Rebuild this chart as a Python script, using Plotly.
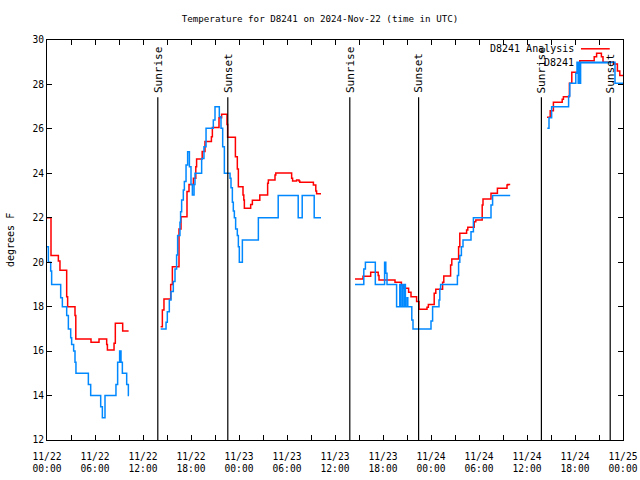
import plotly.graph_objects as go
from datetime import datetime, timedelta

# ---- data (hours after 2024-11-22 00:00 UTC, degrees F); None marks a gap ----
ana_hours = [0.0, 0.5, 1.42, 1.62, 2.46, 2.58, 3.5, 3.6, 5.5, 6.5, 7.46, 7.55, 8.38, 8.54, 9.46, 10.2, None,
             14.2, 14.42, 14.62, 15.46, 15.67, 16.5, 16.75, 17.5, 17.75, 18.3, 18.6, 18.7, 19.4, 19.75, 20.55,
             20.67, 21.5, 21.83, 22.5, 22.58, 23.55, 23.79, 23.92, 24.5, 24.6, 24.67, 25.46, 25.67, 26.6, 27.58,
             27.67, 28.5, 28.6, 30.58, 30.7, 31.2, 31.5, 31.6, 33.3, 33.6, 33.7, 34.25, None,
             38.5, 39.5, 40.46, 41.4, 41.5, 43.5, 44.3, 44.6, 45.2, 45.5, 46.2, 46.5, 47.5, 47.67, 48.4, 48.6,
             49.45, 49.6, 50.45, 50.6, 51.45, 51.6, 52.45, 52.6, 53.4, 53.6, 54.4, 54.5, 55.5, 56.3, 57.5, 57.6,
             57.9, None,
             62.5, 62.9, 63.3, 64.4, 64.55, 65.3, 65.6, 66.45, 66.6, 68.4, 68.7, 69.3, 69.5, 70.8, 71.3, 71.6, 72.0]
ana_temp = [22.0, 20.3, 20.05, 19.64, 18.45, 18.0, 17.6, 16.55, 16.4, 16.55, 16.3, 16.05, 16.35, 17.25, 16.9, 16.9, None,
            17.1, 17.85, 18.35, 19.0, 19.8, 21.5, 22.05, 23.18, 23.5, 23.78, 24.3, 24.65, 24.98, 25.43, 25.65,
            26.06, 26.5, 26.66, 26.2, 25.62, 24.75, 24.2, 23.4, 23.03, 22.8, 22.43, 22.6, 22.79, 23.03, 23.55,
            23.7, 23.93, 24.02, 23.78, 23.66, 23.7, 23.66, 23.6, 23.48, 23.2, 23.08, 23.08, None,
            19.25, 19.37, 19.55, 19.4, 19.2, 19.1, 18.98, 18.83, 18.65, 18.45, 18.23, 17.88, 17.97, 18.1, 18.6, 18.78,
            19.1, 19.38, 19.88, 20.15, 20.7, 21.3, 21.45, 21.57, 21.82, 21.9, 22.58, 22.84, 23.1, 23.33, 23.47, 23.5,
            23.5, None,
            26.52, 26.82, 27.2, 27.33, 27.45, 28.05, 28.55, 28.92, 29.07, 29.25, 29.4, 29.25, 29.0, 28.92, 28.6, 28.4, 28.4]

obs_hours = [0.0, 0.17, 0.46, 0.58, 1.71, 1.92, 2.46, 2.67, 2.96, 3.08, 3.33, 3.5, 3.62, 5.17, 5.46, 6.71, 6.92,
             7.25, 8.62, 8.83, 9.08, 9.25, 9.42, 9.96, 10.17, 10.25, None,
             14.21, 14.88, 15.04, 15.29, 15.5, 15.79, 16.0, 16.2, 16.33, 16.62, 16.7, 16.83, 17.04, 17.17, 17.38,
             17.58, 17.8, 18.0, 18.17, 18.38, 18.5, 19.33, 19.62, 19.88, 20.79, 21.0, 21.54, 21.75, 21.96, 22.17,
             22.88, 23.0, 23.17, 23.29, 23.42, 23.58, 23.79, 23.92, 24.04, 24.42, 26.42, 28.9, 31.4, 31.9, 33.4,
             34.25, None,
             38.5, 39.6, 39.8, 41.04, 42.2, 42.35, 42.5, 43.7, 44.1, 44.2, 44.4, 44.5, 44.7, 44.8, 45.0, 45.1,
             45.6, 45.75, 48.0, 48.2, 49.0, 49.1, 49.2, 51.3, 51.45, 51.6, 51.8, 52.0, 53.0, 53.3, 55.5, 55.7,
             57.9, None,
             62.54, 62.75, 63.08, 65.2, 65.35, 66.1, 66.25, 66.4, 66.5, 66.6, 66.7, 71.0, 72.0]
obs_temp = [20.7, 20.0, 19.6, 19.0, 18.4, 18.0, 17.6, 17.0, 16.6, 16.3, 16.0, 15.5, 15.0, 14.5, 14.0, 13.5, 13.0,
            14.0, 14.5, 15.5, 16.0, 15.5, 15.0, 14.5, 14.0, 14.0, None,
            17.0, 17.3, 17.77, 18.3, 18.68, 19.13, 19.7, 20.33, 21.2, 21.8, 22.27, 22.8, 23.25, 23.63, 24.37,
            24.97, 24.3, 23.5, 23.03, 23.5, 24.0, 24.67, 25.2, 26.03, 26.4, 27.0, 26.55, 26.03, 25.2, 24.0,
            23.78, 23.35, 22.7, 22.3, 22.0, 21.5, 21.2, 20.7, 20.0, 21.0, 22.0, 23.0, 22.0, 23.0, 22.0,
            22.0, None,
            19.0, 19.7, 20.0, 19.0, 20.0, 19.5, 19.0, 18.0, 19.0, 18.0, 19.0, 18.0, 19.0, 18.0, 18.4, 18.0,
            17.4, 17.0, 17.35, 18.0, 18.3, 18.78, 19.0, 19.4, 20.0, 20.3, 20.7, 21.0, 21.37, 22.0, 22.57, 23.0,
            23.0, None,
            26.03, 26.5, 27.0, 27.48, 28.05, 28.5, 29.0, 28.05, 29.0, 28.05, 29.0, 28.05, 28.05]

sunrise_hours = [13.85, 37.85, 61.8]
sunset_hours = [22.6, 46.45, 70.4]

y_ticks = [12, 14, 16, 18, 20, 22, 24, 26, 28, 30]
series_names = ["D8241 Analysis", "D8241"]
series_colors = ["#ff0000", "#0088ff"]

START = datetime(2024, 11, 22)


def to_time(hours):
    return [START + timedelta(hours=h) if h is not None else None for h in hours]


FONT = "DejaVu Sans Mono"
W, H = 640, 480
fig = go.Figure()
fig.add_trace(go.Scatter(x=to_time(ana_hours), y=ana_temp, mode="lines", line_shape="hv",
                         line=dict(color=series_colors[0], width=1.5), name=series_names[0],
                         connectgaps=False))
fig.add_trace(go.Scatter(x=to_time(obs_hours), y=obs_temp, mode="lines", line_shape="hv",
                         line=dict(color=series_colors[1], width=1.5), name=series_names[1],
                         connectgaps=False))

# sunrise / sunset markers
for hrs, label in [(sunrise_hours, "Sunrise"), (sunset_hours, "Sunset")]:
    for h in hrs:
        t = START + timedelta(hours=h)
        fig.add_shape(type="line", xref="x", yref="paper", x0=t, x1=t, y0=0, y1=0.857,
                      line=dict(color="black", width=1.2))
        fig.add_annotation(x=t, xref="x", y=0.862, yref="paper", text=label, textangle=-90,
                           showarrow=False, xanchor="center", yanchor="bottom",
                           font=dict(family=FONT, size=11, color="black"))

# custom legend (text right-aligned, sample line on the right, gnuplot style)
leg_y = [0.978, 0.943]
for name, col, yy in zip(series_names, series_colors, leg_y):
    fig.add_annotation(x=0.919, xref="paper", y=yy, yref="paper", text=name, showarrow=False,
                       xanchor="right", yanchor="middle", font=dict(family=FONT, size=10, color="black"))
    fig.add_shape(type="line", xref="paper", yref="paper", x0=0.927, x1=0.977, y0=yy, y1=yy,
                  line=dict(color=col, width=1.5))

# y-axis title
fig.add_annotation(x=-37 / 576, xref="paper", y=0.5, yref="paper", text="degrees F", textangle=-90,
                   showarrow=False, xanchor="center", yanchor="middle",
                   font=dict(family=FONT, size=10, color="black"))

fig.update_layout(
    width=W, height=H,
    margin=dict(l=47, r=17, t=40, b=40, pad=0, autoexpand=False),
    paper_bgcolor="white", plot_bgcolor="white",
    showlegend=False, hovermode=False,
    font=dict(family=FONT, size=10, color="black"),
    title=dict(text="Temperature for D8241 on 2024-Nov-22 (time in UTC)", x=320 / W, xref="container",
               xanchor="center", y=1 - 19 / H, yref="container", yanchor="middle",
               font=dict(family=FONT, size=9.2, color="black")),
    xaxis=dict(type="date", range=[START, START + timedelta(hours=72)],
               tick0=START, dtick=6 * 3600 * 1000, tickformat="%m/%d<br>%H:%M",
               ticks="inside", ticklen=5, tickcolor="black", showline=True, linecolor="black",
               linewidth=1, mirror="ticks", showgrid=False, zeroline=False, automargin=False,
               ticklabelstandoff=7, ticklabeloverflow="allow",
               minor=dict(dtick=3 * 3600 * 1000, ticks="inside", ticklen=5, tickcolor="black", showgrid=False),
               tickfont=dict(family=FONT, size=9.6)),
    yaxis=dict(range=[12, 30], tickvals=y_ticks, ticktext=[str(v) for v in y_ticks],
               ticks="inside", ticklen=5, tickcolor="black", showline=True, linecolor="black",
               linewidth=1, mirror="ticks", showgrid=False, zeroline=False, automargin=False,
               tickfont=dict(family=FONT, size=9.6)),
)

fig.write_html("out.html", config={"displayModeBar": False, "staticPlot": True},
               post_script="document.body.style.margin='0';document.body.style.overflow='hidden';")
